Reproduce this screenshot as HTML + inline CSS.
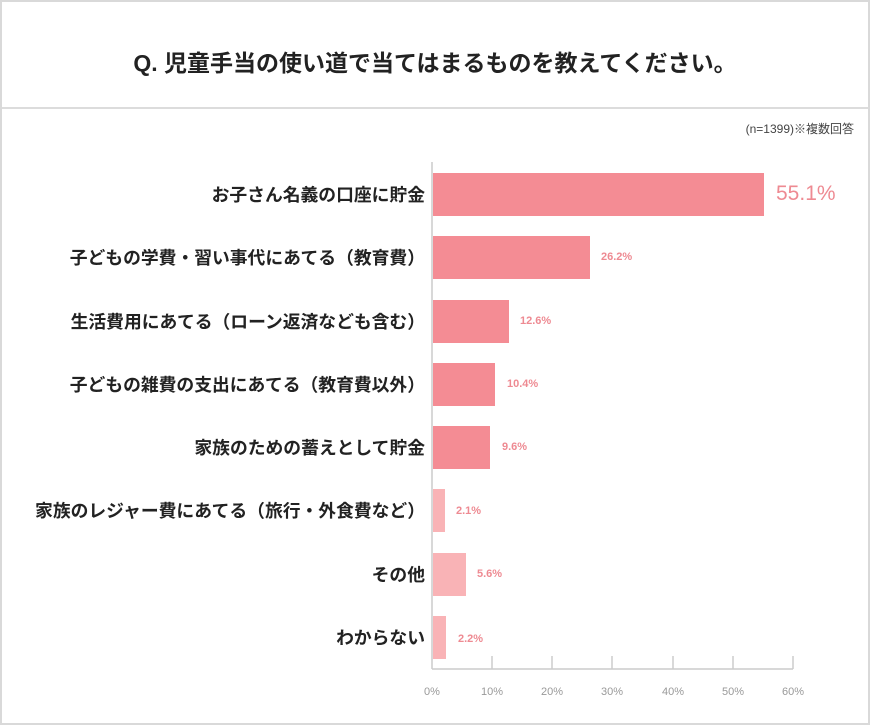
<!DOCTYPE html>
<html><head><meta charset="utf-8"><style>
body{margin:0;width:870px;height:725px;background:#fff;font-family:"Liberation Sans","Noto Sans CJK JP",sans-serif;overflow:hidden}
.frame{position:absolute;left:0;top:0;width:866px;height:721px;border:2px solid #d9d9d9}
.hline{position:absolute;left:2px;top:107px;width:866px;height:2px;background:#dcdcdc}
.title{position:absolute;left:0;width:870px;top:44px;text-align:center;font-size:23px;font-weight:bold;color:#222}
.n{position:absolute;right:16px;top:120px;font-size:12px;color:#444}
.lab{position:absolute;right:445px;font-size:17.8px;font-weight:bold;color:#222;white-space:nowrap;transform:translateY(-50%)}
.bar{position:absolute;left:433px;height:43px}
.val{position:absolute;font-size:11px;font-weight:bold;color:#ee8a92;transform:translateY(-50%)}
.tick{position:absolute;top:686px;font-size:11px;color:#999;transform:translateX(-50%)}
</style></head><body>
<div class="frame"></div><div class="hline"></div>
<div class="title">Q. 児童手当の使い道で当てはまるものを教えてください。</div>
<div class="n">(n=1399)※複数回答</div>
<svg style="position:absolute;left:0;top:0" width="870" height="725">
<line x1="432" y1="162" x2="432" y2="669" stroke="#ccc" stroke-width="1.5"/>
<line x1="432" y1="669" x2="793" y2="669" stroke="#ccc" stroke-width="1.5"/>
<g stroke="#ccc" stroke-width="1.5">
<line x1="492" y1="656" x2="492" y2="669"/><line x1="552" y1="656" x2="552" y2="669"/><line x1="612" y1="656" x2="612" y2="669"/><line x1="673" y1="656" x2="673" y2="669"/><line x1="733" y1="656" x2="733" y2="669"/><line x1="793" y1="656" x2="793" y2="669"/></g>
</svg>
<div class="lab" style="top:194px">お子さん名義の口座に貯金</div>
<div class="lab" style="top:257px">子どもの学費・習い事代にあてる（教育費）</div>
<div class="lab" style="top:321px">生活費用にあてる（ローン返済なども含む）</div>
<div class="lab" style="top:384px">子どもの雑費の支出にあてる（教育費以外）</div>
<div class="lab" style="top:447px">家族のための蓄えとして貯金</div>
<div class="lab" style="top:510px">家族のレジャー費にあてる（旅行・外食費など）</div>
<div class="lab" style="top:574px">その他</div>
<div class="lab" style="top:637px">わからない</div>
<div class="bar" style="top:173px;width:331px;background:#f48c94"></div>
<div class="bar" style="top:236px;width:157px;background:#f48c94"></div>
<div class="bar" style="top:300px;width:76px;background:#f48c94"></div>
<div class="bar" style="top:363px;width:62px;background:#f48c94"></div>
<div class="bar" style="top:426px;width:57px;background:#f48c94"></div>
<div class="bar" style="top:489px;width:12px;background:#f9b3b6"></div>
<div class="bar" style="top:553px;width:33px;background:#f9b3b6"></div>
<div class="bar" style="top:616px;width:13px;background:#f9b3b6"></div>
<div class="val" style="left:776px;top:194px;font-size:21px;font-weight:normal;color:#ee8a92">55.1%</div>
<div class="val" style="left:601px;top:257px">26.2%</div>
<div class="val" style="left:520px;top:321px">12.6%</div>
<div class="val" style="left:507px;top:384px">10.4%</div>
<div class="val" style="left:502px;top:447px">9.6%</div>
<div class="val" style="left:456px;top:511px">2.1%</div>
<div class="val" style="left:477px;top:574px">5.6%</div>
<div class="val" style="left:458px;top:639px">2.2%</div>
<div class="tick" style="left:432px">0%</div>
<div class="tick" style="left:492px">10%</div>
<div class="tick" style="left:552px">20%</div>
<div class="tick" style="left:612px">30%</div>
<div class="tick" style="left:673px">40%</div>
<div class="tick" style="left:733px">50%</div>
<div class="tick" style="left:793px">60%</div>
</body></html>
